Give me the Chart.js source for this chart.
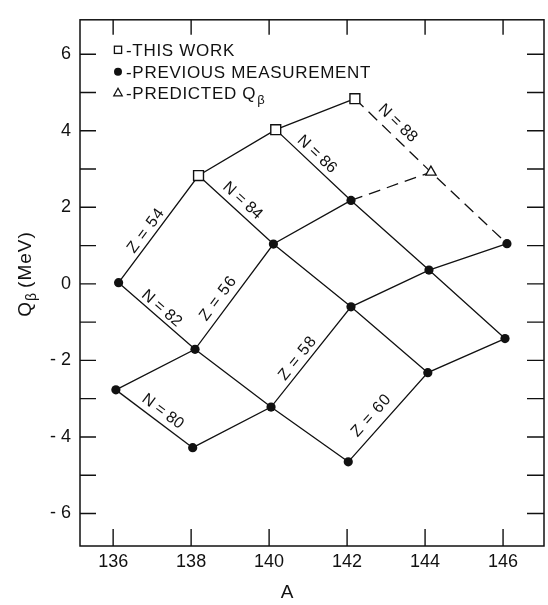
<!DOCTYPE html>
<html><head><meta charset="utf-8">
<script src="https://cdn.jsdelivr.net/npm/chart.js@4.4.1/dist/chart.umd.min.js"></script>
<style>html,body{margin:0;padding:0;background:#fff}#wrap{width:548px;height:605px;position:relative}</style>
</head><body><div id="wrap"><canvas id="c" width="548" height="605"></canvas></div>
<script>
// ---- tick values / labels ----
const xTicks = [136, 138, 140, 142, 144, 146];
const yTicks = [-6, -4, -2, 0, 2, 4, 6];
const yTickLabels = ['- 6', '- 4', '- 2', '0', '2', '4', '6'];
const yMinorTicks = [-6, -5, -4, -3, -2, -1, 0, 1, 2, 3, 4, 5, 6];

// ---- data: "this work" (open squares) ----
const thisWorkNames = ['Xe138', 'Xe140', 'Xe142'];
const thisWorkA = [138.19, 140.17, 142.2];
const thisWorkQ = [2.83, 4.03, 4.84];

// ---- data: previous measurements (filled circles) ----
const previousNames = ['Xe136', 'Ba136', 'Ba138', 'Ce138', 'Ba140', 'Ce140', 'Ba142', 'Ce142', 'Nd142', 'Ce144', 'Nd144', 'Ce146', 'Nd146'];
const previousA = [136.14, 136.07, 138.1, 138.04, 140.11, 140.05, 142.1, 142.1, 142.03, 144.1, 144.07, 146.1, 146.05];
const previousQ = [0.03, -2.77, -1.71, -4.28, 1.04, -3.22, 2.18, -0.6, -4.65, 0.36, -2.32, 1.05, -1.43];

// ---- data: predicted (open triangle) ----
const predictedNames = ['Ba144'];
const predictedA = [144.15];
const predictedQ = [2.92];

// ---- connecting chains (constant Z and constant N) ----
const solidChains = [
  ['Xe136', 'Xe138', 'Xe140', 'Xe142'],          // Z = 54
  ['Ba136', 'Ba138', 'Ba140', 'Ba142'],          // Z = 56
  ['Ce138', 'Ce140', 'Ce142', 'Ce144', 'Ce146'], // Z = 58
  ['Nd142', 'Nd144', 'Nd146'],                   // Z = 60
  ['Ba136', 'Ce138'],                            // N = 80
  ['Xe136', 'Ba138', 'Ce140', 'Nd142'],          // N = 82
  ['Xe138', 'Ba140', 'Ce142', 'Nd144'],          // N = 84
  ['Xe140', 'Ba142', 'Ce144', 'Nd146']           // N = 86
];
const dashedChains = [
  ['Ba142', 'Ba144'],
  ['Xe142', 'Ba144', 'Ce146']                    // N = 88
];

// ---- chain labels: text and which segment they sit on ----
const labelTexts = ['Z = 54', 'Z = 56', 'Z = 58', 'Z = 60', 'N = 80', 'N = 82', 'N = 84', 'N = 86', 'N = 88'];
const labelFrom  = ['Xe136', 'Ba138', 'Ce140', 'Nd142', 'Ba136', 'Xe136', 'Xe138', 'Xe140', 'Xe142'];
const labelTo    = ['Xe138', 'Ba140', 'Ce142', 'Nd144', 'Ce138', 'Ba138', 'Ba140', 'Ba142', 'Ba144'];

// ---- legend ----
const legendTexts = ['-THIS WORK', '-PREVIOUS MEASUREMENT', '-PREDICTED Q'];

// layout/style for labels (pixel offsets along / perpendicular to segment)
const labelAlong = [-8.5, -10.9, -9.2, -9.7, 2.4, -1.3, -1.3, -4.7, -5];
const labelUp    = [10, 12.7, 10.5, 14.4, 11.8, 9.8, 12, 11.2, 12.9];

// build lookup
const pos = {};
thisWorkNames.forEach((n, i) => pos[n] = {x: thisWorkA[i], y: thisWorkQ[i]});
previousNames.forEach((n, i) => pos[n] = {x: previousA[i], y: previousQ[i]});
predictedNames.forEach((n, i) => pos[n] = {x: predictedA[i], y: predictedQ[i]});

const INK = '#111';
const FONT = '"Liberation Sans", Arial, sans-serif';

const datasets = [];
datasets.push({label: 'this', data: thisWorkNames.map(n => pos[n]), showLine: false,
  pointStyle: 'rect', pointRadius: 7, pointBackgroundColor: '#fff', pointBorderColor: INK, pointBorderWidth: 1.4});
datasets.push({label: 'pred', data: predictedNames.map(n => pos[n]), showLine: false,
  pointStyle: 'triangle', pointRadius: 6, pointBackgroundColor: '#fff', pointBorderColor: INK, pointBorderWidth: 1.3});
datasets.push({label: 'prev', data: previousNames.map(n => pos[n]), showLine: false,
  pointStyle: 'circle', pointRadius: 4.6, pointBackgroundColor: INK, pointBorderColor: INK, pointBorderWidth: 0});
solidChains.forEach((c, i) => datasets.push({label: 's' + i, data: c.map(n => pos[n]), showLine: true,
  borderColor: INK, borderWidth: 1.3, pointRadius: 0, tension: 0, fill: false}));
dashedChains.forEach((c, i) => datasets.push({label: 'd' + i, data: c.map(n => pos[n]), showLine: true,
  borderColor: INK, borderWidth: 1.3, borderDash: [12, 7], pointRadius: 0, tension: 0, fill: false}));

const decor = {
  id: 'decor',
  afterDraw(chart) {
    const ctx = chart.ctx, a = chart.chartArea, xs = chart.scales.x, ys = chart.scales.y;
    ctx.save();
    ctx.strokeStyle = INK; ctx.fillStyle = INK;
    // frame
    ctx.lineWidth = 1.5;
    ctx.strokeRect(a.left, a.top, a.right - a.left, a.bottom - a.top);
    // inward ticks
    ctx.lineWidth = 1.4;
    ctx.beginPath();
    xTicks.forEach(v => {
      const p = xs.getPixelForValue(v);
      ctx.moveTo(p, a.bottom); ctx.lineTo(p, a.bottom - 17);
      ctx.moveTo(p, a.top); ctx.lineTo(p, a.top + 15);
    });
    yMinorTicks.forEach(v => {
      const p = ys.getPixelForValue(v);
      ctx.moveTo(a.left, p); ctx.lineTo(a.left + 16, p);
      ctx.moveTo(a.right, p); ctx.lineTo(a.right - 17, p);
    });
    ctx.stroke();

    // chain labels
    ctx.font = '16px ' + FONT;
    ctx.textAlign = 'center'; ctx.textBaseline = 'middle';
    labelTexts.forEach((t, i) => {
      const p0 = pos[labelFrom[i]], p1 = pos[labelTo[i]];
      const x0 = xs.getPixelForValue(p0.x), y0 = ys.getPixelForValue(p0.y);
      const x1 = xs.getPixelForValue(p1.x), y1 = ys.getPixelForValue(p1.y);
      const ang = Math.atan2(y1 - y0, x1 - x0);
      const dx = Math.cos(ang), dy = Math.sin(ang);
      const ux = Math.sin(ang), uy = -Math.cos(ang);
      const cx = (x0 + x1) / 2 + dx * labelAlong[i] + ux * labelUp[i];
      const cy = (y0 + y1) / 2 + dy * labelAlong[i] + uy * labelUp[i];
      ctx.save();
      ctx.translate(cx, cy); ctx.rotate(ang);
      ctx.letterSpacing = t.startsWith('Z') ? '1px' : '0px';
      ctx.fillText(t, 0, 1);
      ctx.restore();
    });

    // legend
    ctx.letterSpacing = '0.7px';
    ctx.font = '17px ' + FONT;
    ctx.textAlign = 'left'; ctx.textBaseline = 'alphabetic';
    const lx = a.left + 38, tx = a.left + 46;
    const rows = [a.top + 36, a.top + 58, a.top + 79];
    legendTexts.forEach((t, i) => ctx.fillText(t, tx, rows[i]));
    const w3 = ctx.measureText(legendTexts[2]).width;
    ctx.font = '13px ' + FONT;
    ctx.fillText('\u03B2', tx + w3 + 1, rows[2] + 5);
    ctx.letterSpacing = '0px';
    ctx.lineWidth = 1.3;
    // square
    ctx.strokeRect(lx - 3.6, rows[0] - 9.6, 7.2, 7.2);
    // circle
    ctx.beginPath(); ctx.arc(lx, rows[1] - 6, 4, 0, Math.PI * 2); ctx.fill();
    // triangle
    ctx.beginPath();
    ctx.moveTo(lx, rows[2] - 10.5); ctx.lineTo(lx + 4.2, rows[2] - 3); ctx.lineTo(lx - 4.2, rows[2] - 3); ctx.closePath();
    ctx.stroke();

    // axis titles
    ctx.font = '19px ' + FONT;
    ctx.textAlign = 'center'; ctx.textBaseline = 'middle';
    ctx.fillText('A', 287, 593);

    ctx.save();
    ctx.translate(24, 274); ctx.rotate(-Math.PI / 2);
    ctx.textAlign = 'left'; ctx.textBaseline = 'alphabetic';
    ctx.font = '19px ' + FONT;
    ctx.letterSpacing = '1px';
    const wQ = ctx.measureText('Q').width;
    const wM = ctx.measureText('(MeV)').width;
    ctx.font = '14px ' + FONT;
    const wB = ctx.measureText('\u03B2').width;
    const total = wQ + wB + 4 + wM;
    let sx = -total / 2;
    ctx.font = '19px ' + FONT;
    ctx.fillText('Q', sx, 7);
    ctx.font = '14px ' + FONT;
    ctx.fillText('\u03B2', sx + wQ, 12);
    ctx.font = '19px ' + FONT;
    ctx.fillText('(MeV)', sx + wQ + wB + 4, 7);
    ctx.restore();
    ctx.restore();
  }
};

new Chart(document.getElementById('c'), {
  type: 'scatter',
  data: {datasets},
  options: {
    responsive: false, animation: false, events: [],
    layout: {padding: {top: 8, right: 4, left: 0, bottom: 0}, autoPadding: false},
    plugins: {legend: {display: false}, tooltip: {enabled: false}},
    scales: {
      x: {
        type: 'linear', min: 135.15, max: 147.05,
        afterBuildTicks: s => { s.ticks = xTicks.map(v => ({value: v})); },
        afterFit: s => { s.height = 59; },
        grid: {display: false, drawTicks: false}, border: {display: false},
        ticks: {font: {family: FONT, size: 18}, color: INK, padding: 5, maxRotation: 0,
          callback: v => String(v)}
      },
      y: {
        type: 'linear', min: -6.85, max: 6.9,
        afterBuildTicks: s => { s.ticks = yTicks.map(v => ({value: v})); },
        afterFit: s => { s.width = 80; },
        grid: {display: false, drawTicks: false}, border: {display: false},
        ticks: {font: {family: FONT, size: 18}, color: INK, padding: 9,
          callback: (v, i) => yTickLabels[i]}
      }
    }
  },
  plugins: [decor]
});
</script>
</body></html>
